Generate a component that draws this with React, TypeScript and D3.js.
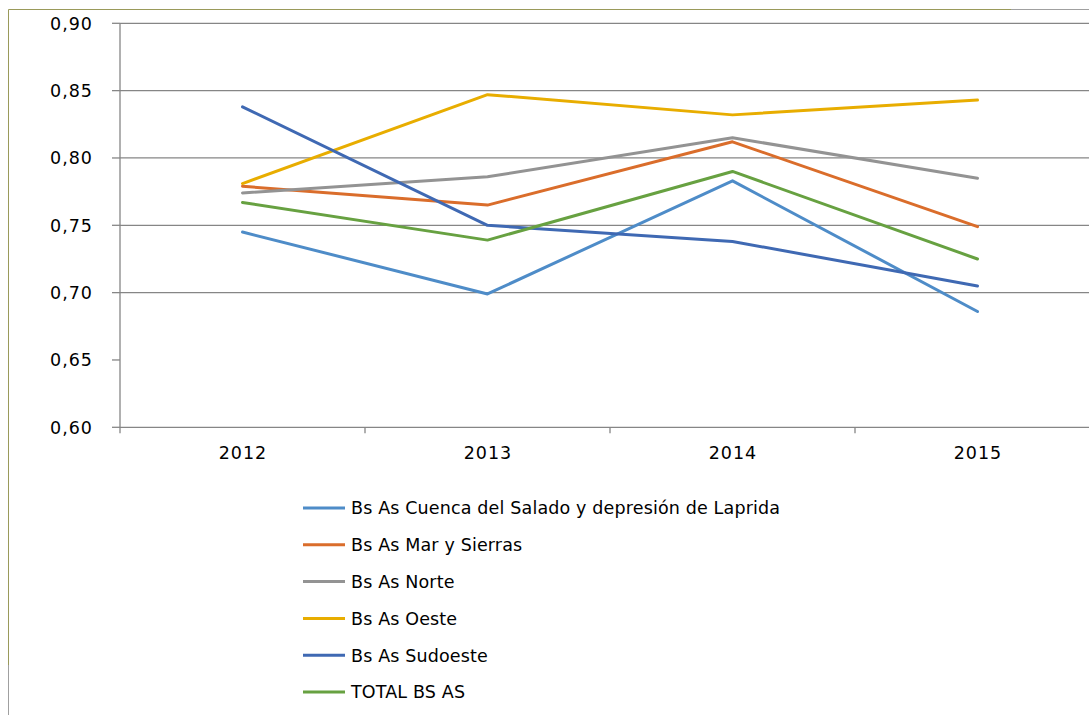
import React from "react";
import * as d3 from "d3";

const years = ["2012", "2013", "2014", "2015"];
const seriesNames = [
  "Bs As Cuenca del Salado y depresión de Laprida",
  "Bs As Mar y Sierras",
  "Bs As Norte",
  "Bs As Oeste",
  "Bs As Sudoeste",
  "TOTAL BS AS",
];
const cuenca = [0.745, 0.699, 0.783, 0.686];
const marSierras = [0.779, 0.765, 0.812, 0.749];
const norte = [0.774, 0.786, 0.815, 0.785];
const oeste = [0.781, 0.847, 0.832, 0.843];
const sudoeste = [0.838, 0.75, 0.738, 0.705];
const total = [0.767, 0.739, 0.79, 0.725];
const colors = ["#4E8CC8", "#DA6D2B", "#939393", "#E8AD00", "#3F69B3", "#67A141"];
const yTicks = [0.6, 0.65, 0.7, 0.75, 0.8, 0.85, 0.9];
const gridTicks = [0.7, 0.75, 0.8, 0.85, 0.9];

const allSeries = [cuenca, marSierras, norte, oeste, sudoeste, total];

export default function App() {
  const W = 1089;
  const H = 715;
  const left = 120;
  const right = 1100;
  const top = 23.3;
  const bottom = 427.3;
  const x = d3.scaleBand<string>().domain(years).range([left, right]).padding(0);
  const y = d3.scaleLinear().domain([0.6, 0.9]).range([bottom, top]);
  const cx = (yr: string) => (x(yr) as number) + x.bandwidth() / 2;
  const line = d3
    .line<number>()
    .x((_, i) => cx(years[i]))
    .y((d) => y(d));
  const font = "'DejaVu Sans', sans-serif";
  const fmt = (v: number) => v.toFixed(2).replace(".", ",");
  const boundaries = [left, ...years.slice(1).map((yr) => x(yr) as number)];

  return (
    <svg
      width={W}
      height={H}
      style={{ position: "absolute", left: 0, top: 0, background: "#fff" }}
    >
      {/* outer border */}
      <line x1={8.5} x2={1011} y1={9.5} y2={9.5} stroke="#9A9A5A" strokeWidth={1} />
      <line x1={1011} x2={W} y1={9.5} y2={9.5} stroke="#A0A0A0" strokeWidth={1} />
      <line x1={8.5} x2={8.5} y1={9.5} y2={665} stroke="#9A9A5A" strokeWidth={1} />
      <line x1={8.5} x2={8.5} y1={665} y2={H} stroke="#A0A0A0" strokeWidth={1} />

      {/* grid */}
      {gridTicks.map((t) => (
        <line key={t} x1={left} x2={W} y1={y(t)} y2={y(t)} stroke="#868686" strokeWidth={1.3} />
      ))}
      {/* axes */}
      <line x1={left} x2={W} y1={bottom} y2={bottom} stroke="#868686" strokeWidth={1.3} />
      <line x1={left} x2={left} y1={top} y2={bottom} stroke="#868686" strokeWidth={1.3} />
      {yTicks.map((t) => (
        <line key={"yt" + t} x1={left - 8} x2={left} y1={y(t)} y2={y(t)} stroke="#868686" strokeWidth={1.3} />
      ))}
      {boundaries.map((b, i) => (
        <line key={"xt" + i} x1={b} x2={b} y1={bottom} y2={bottom + 6} stroke="#868686" strokeWidth={1.3} />
      ))}
      {yTicks.map((t) => (
        <text
          key={"yl" + t}
          x={93}
          y={y(t)}
          dy="0.36em"
          textAnchor="end"
          fontFamily={font}
          fontSize={17.5}
          letterSpacing={1}
          fill="#000"
        >
          {fmt(t)}
        </text>
      ))}
      {years.map((yr) => (
        <text
          key={"xl" + yr}
          x={cx(yr) + 0.5}
          y={459}
          textAnchor="middle"
          fontFamily={font}
          fontSize={17.5}
          letterSpacing={1}
          fill="#000"
        >
          {yr}
        </text>
      ))}

      {/* series */}
      {allSeries.map((s, i) => (
        <path
          key={"s" + i}
          d={line(s) as string}
          fill="none"
          stroke={colors[i]}
          strokeWidth={3}
          strokeLinejoin="round"
          strokeLinecap="round"
        />
      ))}

      {/* legend */}
      {seriesNames.map((n, i) => {
        const ly = 508 + i * 36.8;
        return (
          <g key={"lg" + i}>
            <line x1={303} x2={345} y1={ly} y2={ly} stroke={colors[i]} strokeWidth={3} />
            <text
              x={351}
              y={ly}
              dy="0.36em"
              fontFamily={font}
              fontSize={17.5}
              letterSpacing={0.15}
              fill="#000"
            >
              {n}
            </text>
          </g>
        );
      })}
    </svg>
  );
}
